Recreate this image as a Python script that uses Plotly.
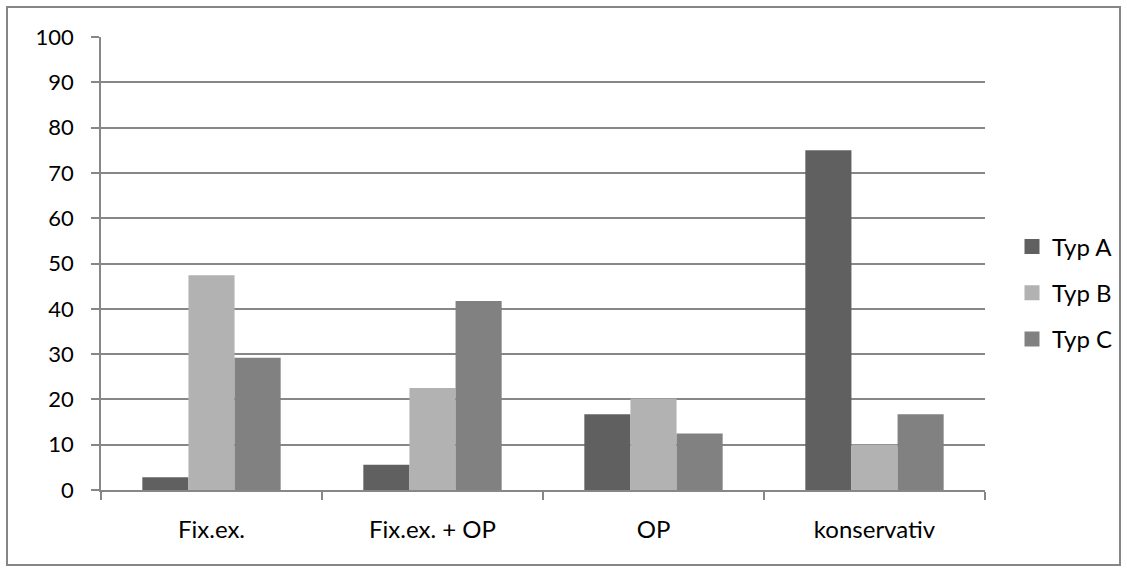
import plotly.graph_objects as go

categories = ["Fix.ex.", "Fix.ex. + OP", "OP", "konservativ"]
typ_a = [2.8, 5.6, 16.7, 75.0]
typ_b = [47.4, 22.5, 20.2, 10.0]
typ_c = [29.2, 41.7, 12.5, 16.7]
series_names = ["Typ A", "Typ B", "Typ C"]
colors = ["#606060", "#b2b2b2", "#818181"]

W, H = 1127, 572
L, R, T, B = 101, 1127 - 985, 37, 572 - 490
pw, ph = W - L - R, H - T - B

font_family = "Lato, 'Open Sans', sans-serif"
grid_col = "#878787"

fig = go.Figure()
for i, (name, vals) in enumerate(zip(series_names, [typ_a, typ_b, typ_c])):
    fig.add_trace(go.Bar(
        x=categories, y=vals, name=name,
        marker=dict(color=colors[i], line=dict(width=0)),
        showlegend=False, legendgroup=name,
    ))
# legend entries (square swatches)
for i, name in enumerate(series_names):
    fig.add_trace(go.Scatter(
        x=[None], y=[None], mode="markers", name=name,
        marker=dict(symbol="square", size=15, color=colors[i]),
        legendgroup=name, showlegend=True, hoverinfo="skip",
    ))

# outer border
bx0, bx1, by0, by1 = 7, 1120, 7, 565
fig.add_shape(type="rect", xref="paper", yref="paper",
              x0=(bx0 - L) / pw, x1=(bx1 - L) / pw,
              y0=(H - B - by1) / ph, y1=(H - B - by0) / ph,
              line=dict(color="#868686", width=2), fillcolor="rgba(0,0,0,0)",
              layer="below")

fig.update_layout(
    width=W, height=H,
    margin=dict(l=L, r=R, t=T, b=B, pad=0, autoexpand=False),
    paper_bgcolor="white", plot_bgcolor="white",
    barmode="group", bargap=0.374, bargroupgap=0,
    font=dict(family=font_family, size=24, color="#000000"),
    showlegend=True,
    legend=dict(
        x=(1012 - L) / pw, xanchor="left",
        y=(490 - 293) / ph, yanchor="middle",
        traceorder="grouped", tracegroupgap=12,
        font=dict(size=24, family=font_family),
        itemsizing="trace",
        bgcolor="rgba(0,0,0,0)",
    ),
    xaxis=dict(
        type="category", showgrid=False, showline=True,
        linecolor=grid_col, linewidth=1.5,
        ticks="outside", tickson="boundaries", ticklen=8,
        tickcolor=grid_col, tickwidth=1.5,
        ticklabelstandoff=17,
        tickfont=dict(size=24),
    ),
    yaxis=dict(
        range=[0, 100], dtick=10, tick0=0,
        showgrid=True, gridcolor=grid_col, gridwidth=1.5,
        showline=True, linecolor=grid_col, linewidth=1.5,
        ticks="outside", ticklen=8, tickcolor=grid_col, tickwidth=1.5,
        ticklabelstandoff=13,
        tickfont=dict(size=22),
        zeroline=False,
    ),
)

fig.write_html("out.html", config={"displayModeBar": False},
               post_script="document.body.style.margin='0';")
